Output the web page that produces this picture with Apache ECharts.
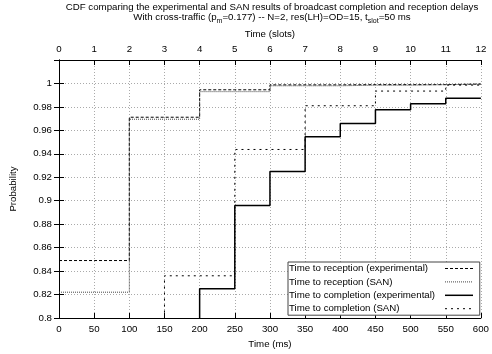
<!DOCTYPE html>
<html>
<head>
<meta charset="utf-8">
<script src="https://cdn.jsdelivr.net/npm/echarts@6/dist/echarts.min.js"></script>
<style>
  html, body { margin: 0; padding: 0; background: #fff; }
  #chart { width: 492px; height: 354px; }
</style>
</head>
<body>
<div id="chart"></div>
<script>
// one point per slot (t_slot = 50 ms)
const timesMs = [0, 50, 100, 150, 200, 250, 300, 350, 400, 450, 500, 550, 600];

// values below 0.8 are outside the visible window (estimated)
const receptionExp = [0.849, 0.849, 0.9712, 0.9712, 0.9946, 0.9946, 0.9988, 0.9988, 0.999, 0.999, 0.999, 0.9995, 0.9995];
const receptionSan = [0.822, 0.822, 0.9695, 0.9695, 0.993, 0.993, 0.998, 0.998, 0.9985, 0.9985, 0.999, 0.9993, 0.9995];
const completionExp = [0.2, 0.35, 0.55, 0.7, 0.825, 0.896, 0.925, 0.9545, 0.9658, 0.9776, 0.9827, 0.9873, 0.9873];
const completionSan = [0.25, 0.4, 0.6, 0.836, 0.836, 0.9437, 0.9437, 0.981, 0.981, 0.9935, 0.9935, 0.9986, 0.9986];

const seriesNames = [
  'Time to reception (experimental)',
  'Time to reception (SAN)',
  'Time to completion (experimental)',
  'Time to completion (SAN)'
];

const FONT = "'Liberation Sans', Arial, Helvetica, sans-serif";
const FS = 9.7;

const chart = echarts.init(document.getElementById('chart'), null, { renderer: 'canvas' });

const pairs = vals => timesMs.map((t, i) => [t, vals[i]]);

const lineStyles = [
  { type: [3, 2], width: 1, color: '#000' },
  { type: [1, 1], width: 1, color: '#444' },
  { type: 'solid', width: 1.5, color: '#000' },
  { type: [2, 4], width: 1, color: '#000' }
];

const mkLine = (i, vals) => ({
  name: seriesNames[i],
  type: 'line',
  step: 'end',
  symbol: 'none',
  xAxisIndex: 0,
  yAxisIndex: 0,
  clip: true,
  animation: false,
  itemStyle: { color: '#000' },
  lineStyle: lineStyles[i],
  data: pairs(vals)
});

const tickInside = { show: true, inside: true, length: 5, lineStyle: { color: '#000', width: 1 } };
const axisLine = { show: true, lineStyle: { color: '#000', width: 1 } };
const gridLine = { show: true, lineStyle: { color: '#aaa', width: 1, type: [1, 2] } };

const option = {
  backgroundColor: '#fff',
  animation: false,
  textStyle: { fontFamily: FONT, fontSize: FS, color: '#000' },
  title: {
    left: 272,
    top: 2,
    padding: 0,
    textAlign: 'center',
    text: 'CDF comparing the experimental and SAN results of broadcast completion and reception delays\n' +
      'With cross-traffic (p{sub|m}=0.177) -- N=2, res(LH)=OD=15, t{sub|slot}=50 ms',
    textStyle: {
      fontFamily: FONT,
      fontSize: FS,
      fontWeight: 'normal',
      color: '#000',
      lineHeight: 10,
      rich: {
        sub: { fontFamily: FONT, fontSize: 7, color: '#000', verticalAlign: 'bottom', lineHeight: 7, padding: [0, 0, -3, 0] }
      }
    }
  },
  grid: { left: 59, right: 7, top: 60, bottom: 34, containLabel: false },
  legend: {
    data: seriesNames.map((name, i) => ({
      name,
      lineStyle: { width: lineStyles[i].width === 1.5 ? 1.5 : 1 }
    })),
    orient: 'vertical',
    left: 288,
    top: 262,
    align: 'right',
    padding: [1.5, 6, 1.5, 1],
    itemGap: 3.4,
    itemWidth: 28,
    itemHeight: 8,
    backgroundColor: '#fff',
    borderColor: '#444',
    borderWidth: 1,
    borderRadius: 0,
    selectedMode: false,
    itemStyle: { color: 'rgba(0,0,0,0)', borderColor: 'rgba(0,0,0,0)', borderWidth: 0 },
    formatter: name => '{t|' + name + '}',
    textStyle: {
      fontFamily: FONT,
      fontSize: FS,
      color: '#000',
      rich: {
        t: { fontFamily: FONT, fontSize: FS, color: '#000', width: 151, align: 'left' }
      }
    }
  },
  xAxis: [
    {
      type: 'value',
      position: 'bottom',
      min: 0,
      max: 600,
      interval: 50,
      name: 'Time (ms)',
      nameLocation: 'middle',
      nameGap: 21,
      nameTextStyle: { fontFamily: FONT, fontSize: FS, color: '#000' },
      axisLine,
      axisTick: tickInside,
      axisLabel: { margin: 6, fontFamily: FONT, fontSize: FS, color: '#000' },
      splitLine: gridLine
    },
    {
      type: 'value',
      position: 'top',
      min: 0,
      max: 12,
      interval: 1,
      name: 'Time (slots)',
      nameLocation: 'middle',
      nameGap: 19,
      nameTextStyle: { fontFamily: FONT, fontSize: FS, color: '#000' },
      axisLine,
      axisTick: tickInside,
      axisLabel: { margin: 6, fontFamily: FONT, fontSize: FS, color: '#000' },
      splitLine: { show: false }
    }
  ],
  yAxis: [
    {
      type: 'value',
      position: 'left',
      min: 0.8,
      max: 1.02,
      interval: 0.02,
      name: 'Probability',
      nameLocation: 'middle',
      nameGap: 41,
      nameTextStyle: { fontFamily: FONT, fontSize: FS, color: '#000' },
      axisLine,
      axisTick: tickInside,
      axisLabel: {
        margin: 7,
        fontFamily: FONT,
        fontSize: FS,
        color: '#000',
        formatter: v => (v > 1.001 ? '' : String(+v.toFixed(2)))
      },
      splitLine: gridLine
    },
    {
      type: 'value',
      position: 'right',
      min: 0.8,
      max: 1.02,
      interval: 0.02,
      axisLine,
      axisTick: tickInside,
      axisLabel: { show: false },
      splitLine: { show: false }
    }
  ],
  series: [
    mkLine(0, receptionExp),
    mkLine(1, receptionSan),
    mkLine(2, completionExp),
    mkLine(3, completionSan)
  ]
};

chart.setOption(option);
</script>
</body>
</html>
